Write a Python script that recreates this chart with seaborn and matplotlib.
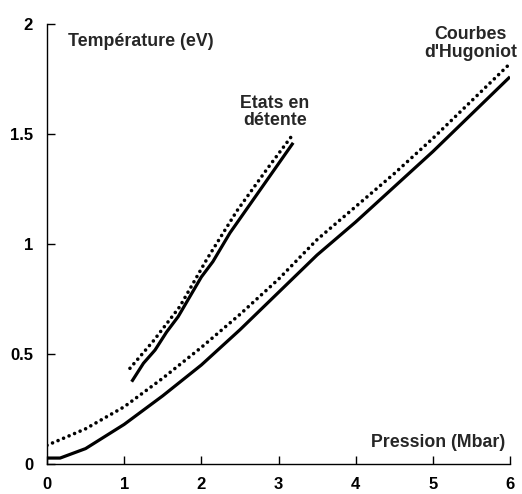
import matplotlib
matplotlib.use("Agg")
import matplotlib.pyplot as plt
import seaborn as sns
import pandas as pd

# Hugoniot curves
hug_solid_x = [0.0, 0.17, 0.5, 1.0, 1.5, 2.0, 2.5, 3.0, 3.5, 4.0, 4.5, 5.0, 5.5, 6.0]
hug_solid_y = [0.027, 0.027, 0.07, 0.18, 0.31, 0.45, 0.61, 0.78, 0.95, 1.10, 1.26, 1.42, 1.59, 1.76]
hug_dot_x = [0.0, 0.5, 1.0, 1.5, 2.0, 2.5, 3.0, 3.5, 4.0, 4.5, 5.0, 5.5, 6.0]
hug_dot_y = [0.085, 0.16, 0.26, 0.39, 0.53, 0.68, 0.84, 1.02, 1.17, 1.32, 1.48, 1.65, 1.82]

# Release states
det_solid_x = [1.097, 1.25, 1.40, 1.55, 1.70, 1.85, 2.0, 2.15, 2.37, 2.67, 3.19]
det_solid_y = [0.374, 0.458, 0.518, 0.60, 0.67, 0.76, 0.85, 0.92, 1.05, 1.20, 1.46]
det_dot_x = [1.075, 1.38, 1.72, 2.07, 2.46, 2.85, 3.17]
det_dot_y = [0.435, 0.56, 0.715, 0.93, 1.15, 1.34, 1.49]

x_ticks = [0, 1, 2, 3, 4, 5, 6]
y_ticks = [0, 0.5, 1, 1.5, 2]
y_tick_labels = ["0", "0.5", "1", "1.5", "2"]

sns.set_theme(style="ticks")
plt.rcParams['font.family'] = ['Liberation Sans', 'DejaVu Sans']
plt.rcParams['font.weight'] = 'bold'

fig = plt.figure(figsize=(5.22, 4.94), dpi=100)
ax = fig.add_axes([47/522, 30/494, 463/522, 440/494])

dot_ls = (0, (0.01, 1.65))
sns.lineplot(x=hug_solid_x, y=hug_solid_y, ax=ax, color="black", linewidth=2.3,
             solid_capstyle="butt", sort=False, estimator=None)
sns.lineplot(x=hug_dot_x, y=hug_dot_y, ax=ax, color="black", linewidth=2.6,
             linestyle=dot_ls, dash_capstyle="round", sort=False, estimator=None)
sns.lineplot(x=det_solid_x, y=det_solid_y, ax=ax, color="black", linewidth=2.3,
             solid_capstyle="butt", sort=False, estimator=None)
sns.lineplot(x=det_dot_x, y=det_dot_y, ax=ax, color="black", linewidth=2.6,
             linestyle=dot_ls, dash_capstyle="round", sort=False, estimator=None)

ax.set_xlim(0, 6)
ax.set_ylim(0, 2)
ax.set_xticks(x_ticks)
ax.set_xticklabels([str(t) for t in x_ticks])
ax.set_yticks(y_ticks)
ax.set_yticklabels(y_tick_labels)
ax.tick_params(direction="in", length=6, width=1, colors="black",
               labelsize=12)
ax.tick_params(axis="x", pad=9.5)
ax.tick_params(axis="y", pad=10)
for lab in ax.get_xticklabels() + ax.get_yticklabels():
    lab.set_fontweight("bold")
sns.despine(ax=ax)
for s in ["left", "bottom"]:
    ax.spines[s].set_linewidth(1.0)
    ax.spines[s].set_color("black")
ax.set_xlabel("")
ax.set_ylabel("")

fs = 12.8
ax.text(0.27, 1.92, "Température (eV)", fontsize=fs, fontweight="bold",
        ha="left", va="center")
ax.text(2.95, 1.60, "Etats en\ndétente", fontsize=fs, fontweight="bold",
        ha="center", va="center", linespacing=1.05)
ax.text(5.49, 1.91, "Courbes\nd'Hugoniot", fontsize=fs, fontweight="bold",
        ha="center", va="center", linespacing=1.05)
ax.text(5.935, 0.10, "Pression (Mbar)", fontsize=fs, fontweight="bold",
        ha="right", va="center")

fig.savefig("out.png", dpi=100)
